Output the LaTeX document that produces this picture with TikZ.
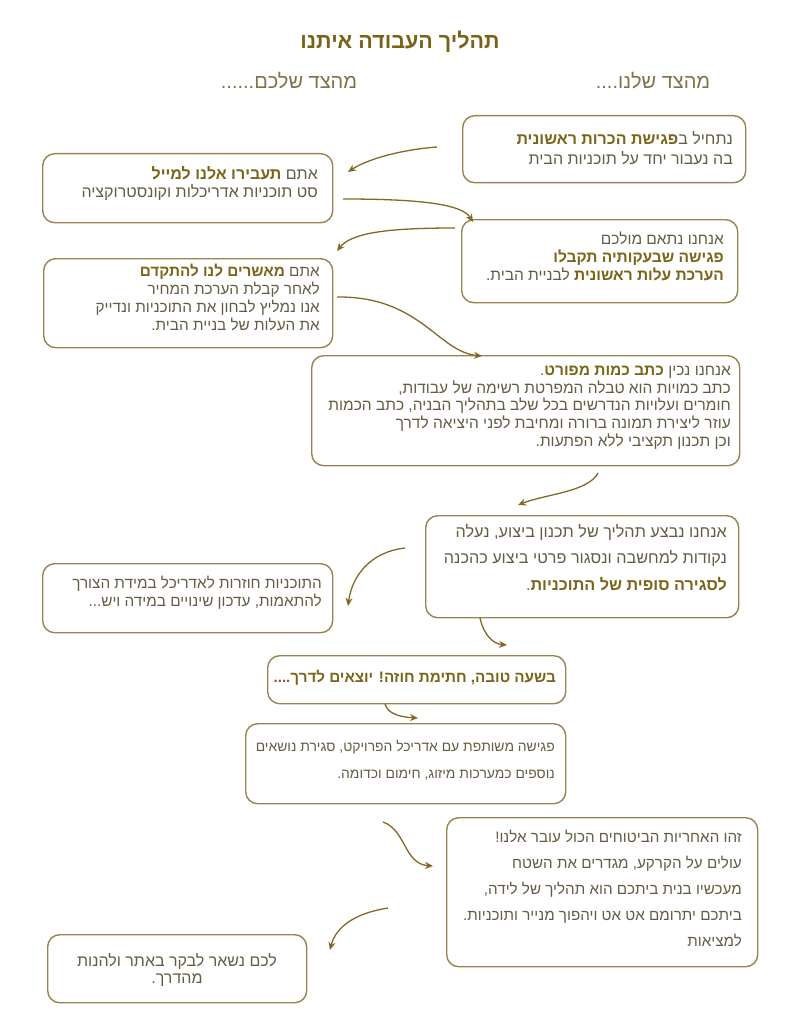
\documentclass[tikz,border=0pt]{standalone}
\usepackage{fontspec}
\usetikzlibrary{arrows.meta}
\TeXXeTstate=1
\newfontfamily\heb[Script=Hebrew]{Liberation Sans}
\newfontfamily\hebB[Script=Hebrew,Color=7A6418]{Liberation Sans}
\definecolor{boxc}{RGB}{150,132,80}
\definecolor{bodyc}{RGB}{100,92,66}
\definecolor{titlec}{RGB}{120,98,22}
\definecolor{headc}{RGB}{128,114,72}
\definecolor{arrc}{RGB}{130,104,38}
\newcommand{\hl}[1]{{\hebB\bfseries #1}}
\newcommand{\rl}[1]{\beginR #1\endR}
\tikzset{
  box/.style={draw=boxc, line width=1.4pt, rounded corners=12pt, inner sep=0pt, anchor=north west},
  txt/.style={inner sep=0pt, anchor=north east, align=right, text=bodyc, font=\heb\fontsize{#1}{18}\selectfont},
  txt/.default=14.5,
  txtl/.style={txt=#1, font=\heb\fontsize{#1}{26.5}\selectfont},
  conn/.style={draw=arrc, line width=1.3pt, -{Stealth[length=8pt,width=7pt]}}
}
\begin{document}
\begin{tikzpicture}[x=1pt,y=-1pt]
\useasboundingbox (0,0) rectangle (800,1027);
% title and headers
\node[inner sep=0pt, text=titlec, font=\heb\bfseries\fontsize{21.5}{24}\selectfont] (title) at (400,42) {\rl{תהליך העבודה איתנו}};
\node[inner sep=0pt, text=headc, font=\heb\fontsize{20}{22}\selectfont] (hleft) at (289,81) {\rl{מהצד שלכם......}};
\node[inner sep=0pt, text=headc, font=\heb\fontsize{20}{22}\selectfont] (hright) at (653,81) {\rl{מהצד שלנו....}};
% boxes
\node[box, minimum width=283pt, minimum height=67pt] (b1) at (462,115) {};
\node[box, minimum width=290pt, minimum height=69pt] (b2) at (42,153) {};
\node[box, minimum width=276pt, minimum height=83pt] (b3) at (461,219) {};
\node[box, minimum width=289pt, minimum height=89pt] (b4) at (43,258) {};
\node[box, minimum width=428pt, minimum height=110pt] (b5) at (311,355) {};
\node[box, minimum width=313pt, minimum height=102pt] (b6) at (425,515) {};
\node[box, minimum width=290pt, minimum height=69pt] (b7) at (42,563) {};
\node[box, minimum width=298pt, minimum height=48pt] (b8) at (267,655) {};
\node[box, minimum width=320pt, minimum height=80pt] (b9) at (245,723) {};
\node[box, minimum width=311pt, minimum height=149pt] (b10) at (446,817) {};
\node[box, minimum width=259pt, minimum height=68pt] (b11) at (47,934) {};
% texts
\node[txt=16, font=\heb\fontsize{16}{20}\selectfont] (t1) at (733,131) {\rl{נתחיל ב\hl{פגישת הכרות ראשונית}}\\\rl{בה נעבור יחד על תוכניות הבית}\hspace{3pt}};
\node[txt=16] (t2) at (318,166) {\rl{אתם \hl{תעבירו אלנו למייל}}\\\rl{סט תוכניות אדריכלות וקונסטרוקציה}};
\node[txt=15.5] (t3) at (724,232) {\rl{אנחנו נתאם מולכם}\\\rl{\hl{פגישה שבעקותיה תקבלו}}\\\rl{\hl{הערכת עלות ראשונית} לבניית הבית.}};
\node[txt=15.3] (t4) at (320,264) {\rl{אתם \hl{מאשרים לנו להתקדם}}\\\rl{לאחר קבלת הערכת המחיר}\hspace{4pt}\\\rl{אנו נמליץ לבחון את התוכניות ונדייק}\\\rl{את העלות של בניית הבית.}};
\node[txt=15.5, font=\heb\fontsize{15.5}{17.6}\selectfont] (t5) at (731,366) {\rl{אנחנו נכין \hl{כתב כמות מפורט}.}\\\rl{כתב כמויות הוא טבלה המפרטת רשימה של עבודות,}\\\rl{חומרים ועלויות הנדרשים בכל שלב בתהליך הבניה, כתב הכמות}\\\rl{עוזר ליצירת תמונה ברורה ומחיבת לפני היציאה לדרך}\\\rl{וכן תכנון תקציבי ללא הפתעות.}};
\node[txtl=16.2] (t6) at (727,524) {\rl{אנחנו נבצע תהליך של תכנון ביצוע, נעלה}\\\rl{נקודות למחשבה ונסגור פרטי ביצוע כהכנה}\\\rl{\hl{לסגירה סופית של התוכניות}.}\hspace{6pt}};
\node[txt=15.3] (t7) at (322,576) {\rl{התוכניות חוזרות לאדריכל במידת הצורך}\\\rl{להתאמות, עדכון שינויים במידה ויש...}\hspace{5pt}};
\node[txt=15.2] (t8) at (556,670) {\rl{\hl{בשעה טובה, חתימת חוזה! יוצאים לדרך....}}};
\node[txtl=13.9] (t9) at (555,740) {\rl{פגישה משותפת עם אדריכל הפרויקט, סגירת נושאים}\\\rl{נוספים כמערכות מיזוג, חימום וכדומה.}\hspace{8pt}};
\node[txtl=15.2, font=\heb\fontsize{15.2}{26}\selectfont] (t10) at (742,830) {\rl{זהו האחריות הביטוחים הכול עובר אלנו!}\\\rl{עולים על הקרקע, מגדרים את השטח}\\\rl{מעכשיו בנית ביתכם הוא תהליך של לידה,}\\\rl{ביתכם יתרומם אט אט ויהפוך מנייר ותוכניות.}\\\rl{למציאות}};
\node[txt=16, font=\heb\fontsize{16}{17.5}\selectfont, anchor=north, align=center] (t11) at (177,953) {\rl{לכם נשאר לבקר באתר ולהנות}\\\rl{מהדרך.}};
% connector end points
\coordinate (a1s) at (437,147); \coordinate (a1e) at (348,172);
\coordinate (a2s) at (343,199); \coordinate (a2e) at (473,222);
\coordinate (a3s) at (455,228); \coordinate (a3e) at (337,251);
\coordinate (a4s) at (337,297); \coordinate (a4e) at (482,356);
\coordinate (a5s) at (598,473); \coordinate (a5e) at (518,505);
\coordinate (a6s) at (405,548); \coordinate (a6e) at (348,606);
\coordinate (a7s) at (480,618); \coordinate (a7e) at (507,645);
\coordinate (a8s) at (385,704); \coordinate (a8e) at (418,718);
\coordinate (a9s) at (383,822); \coordinate (a9e) at (433,866);
\coordinate (a10s) at (388,908); \coordinate (a10e) at (330,950);
% connectors
\draw[conn] (a1s) .. controls (398,150) and (366,160) .. (a1e);
\draw[conn] (a2s) .. controls (420,199) and (462,204) .. (a2e);
\draw[conn] (a3s) .. controls (392,228) and (352,232) .. (a3e);
\draw[conn] (a4s) .. controls (420,296) and (438,352) .. (a4e);
\draw[conn] (a5s) .. controls (588,492) and (546,494) .. (a5e);
\draw[conn] (a6s) .. controls (370,552) and (352,576) .. (a6e);
\draw[conn] (a7s) .. controls (484,636) and (494,644) .. (a7e);
\draw[conn] (a8s) .. controls (388,714) and (400,717) .. (a8e);
\draw[conn] (a9s) .. controls (406,830) and (404,864) .. (a9e);
\draw[conn] (a10s) .. controls (350,914) and (335,930) .. (a10e);
\end{tikzpicture}
\end{document}
